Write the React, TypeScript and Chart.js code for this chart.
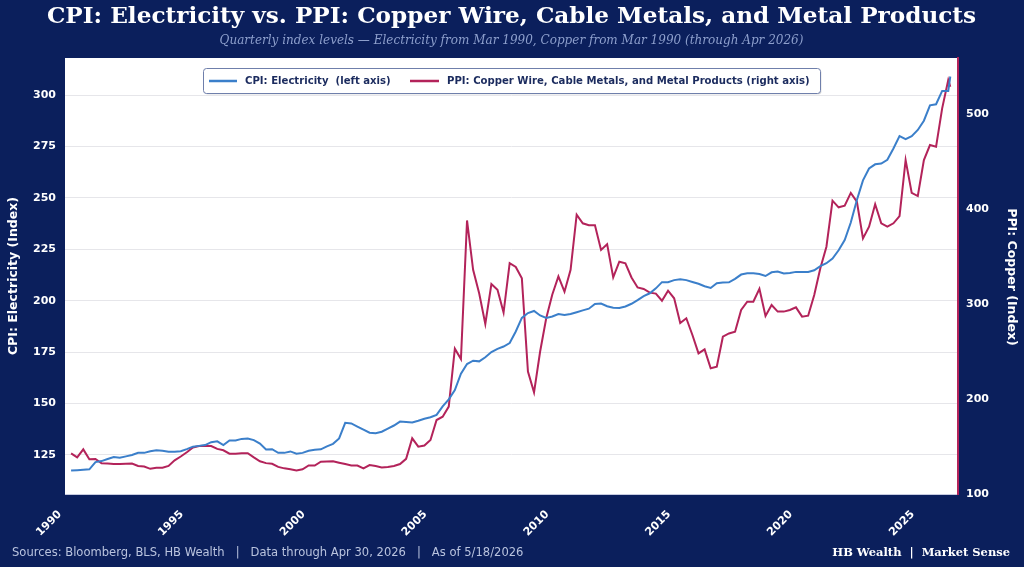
import { useEffect, useRef } from "react";
import { Chart, registerables } from "chart.js";

Chart.register(...registerables);

// ---- Data (quarterly, Mar 1990 .. Mar 2026, plus Apr 2026) ----
const FIRST_YEAR = 1990;
const LAST_FULL_YEAR = 2025;
const QUARTER_MONTHS = [3, 6, 9, 12];
const EXTRA_MONTHS_2026 = [3, 4];

const ELECTRICITY = [
  117.4, 117.6, 117.8, 118, 121.5, 122, 123, 124, 123.6, 124.3,
  125, 126, 126, 126.8, 127.3, 127, 126.5, 126.5, 126.8, 127.8,
  129, 129.4, 129.8, 131.2, 131.6, 129.8, 132, 132, 132.8, 133,
  132.2, 130.5, 127.6, 127.8, 126, 126, 126.7, 125.6, 126, 127,
  127.5, 127.7, 129.2, 130.4, 133, 140.6, 140.3, 138.8, 137.3, 135.8,
  135.6, 136.3, 137.8, 139.3, 141.2, 141, 140.8, 141.6, 142.6, 143.3,
  144.5, 148.6, 152, 156.5, 164.5, 169.2, 170.8, 170.5, 172.5, 175,
  176.6, 177.7, 179.4, 185, 191.6, 194, 195, 192.8, 191.6, 192.3,
  193.5, 193.1, 193.5, 194.4, 195.3, 196.1, 198.4, 198.6, 197.3, 196.6,
  196.4, 197.2, 198.5, 200.3, 202.2, 203.6, 206, 209, 209, 210,
  210.4, 210, 209.1, 208.2, 207, 206.2, 208.5, 208.8, 208.9, 210.6,
  212.7, 213.3, 213.3, 213, 212, 213.8, 214.2, 213.2, 213.5, 214,
  214, 214, 214.8, 216.8, 218.2, 220.5, 224.5, 229.5, 238, 249,
  258.5, 264.3, 266.3, 266.7, 268.5, 274, 280, 278.5, 280, 283,
  287.5, 295, 295.5, 302, 302,
  309,
];

const COPPER = [
  142.8, 138.6, 147, 136.5, 136.8, 132.3, 132, 131.5, 131.6, 131.8,
  132, 129.5, 129, 126.5, 127.6, 127.6, 129.5, 135.5, 139.5, 144,
  149, 150.5, 150.8, 150.5, 147.5, 146, 142.5, 142.5, 143, 143,
  138.6, 134.5, 132.5, 131.8, 128.5, 127, 126, 124.8, 126, 130,
  130, 134, 134.2, 134.5, 133, 131.5, 130, 130, 127, 130.5,
  129.5, 128, 128.5, 129.5, 131.5, 137, 158.6, 149.8, 151, 156.8,
  177.9, 181.4, 192, 253, 242, 388, 336, 311, 279, 321,
  315, 291, 343, 339, 327, 229, 207, 250, 285, 310,
  329, 313, 336, 394, 385, 383, 383, 357, 363, 328,
  344.5, 342.8, 328, 317.5, 315.8, 312, 311, 303.5, 314, 306,
  280, 285, 267.4, 248, 252.3, 232.3, 234, 265.6, 269, 270.8,
  293.7, 302.4, 302.4, 316, 287.5, 299, 292, 292, 293.7, 296.5,
  286.7, 287.7, 309.5, 337.6, 360.3, 408.8, 401.8, 403.5, 417, 407.7,
  369, 381.4, 405, 385, 381.4, 385, 392.6, 451.6, 417, 413.7,
  451.6, 467.4, 465.6, 506, 535.8,
  528.7,
];

const X_TICKS = [1990, 1995, 2000, 2005, 2010, 2015, 2020, 2025];
const LEFT_TICKS = [125, 150, 175, 200, 225, 250, 275, 300];
const RIGHT_TICKS = [100, 200, 300, 400, 500];

const TITLE = "CPI: Electricity vs. PPI: Copper Wire, Cable Metals, and Metal Products";
const SUBTITLE =
  "Quarterly index levels \u2014 Electricity from Mar 1990, Copper from Mar 1990 (through Apr 2026)";
const FOOTER_LEFT =
  "Sources: Bloomberg, BLS, HB Wealth   |   Data through Apr 30, 2026   |   As of 5/18/2026";
const FOOTER_RIGHT = "HB Wealth  |  Market Sense";
const LEFT_TITLE = "CPI: Electricity (Index)";
const RIGHT_TITLE = "PPI: Copper (Index)";
const LEGEND_BLUE = "CPI: Electricity  (left axis)";
const LEGEND_RED = "PPI: Copper Wire, Cable Metals, and Metal Products (right axis)";

// dates as decimal years
const DATES: number[] = [];
for (let y = FIRST_YEAR; y <= LAST_FULL_YEAR; y++) {
  for (const m of QUARTER_MONTHS) DATES.push(y + m / 12);
}
for (const m of EXTRA_MONTHS_2026) DATES.push(2026 + m / 12);

const NAVY = "#0b1f5c";
const BLUE = "#3b7fca";
const RED = "#b3235a";

const W = 1024;
const H = 567;
const PLOT = { left: 65, right: 958, top: 58, bottom: 494 };

function fitFont(
  ctx: CanvasRenderingContext2D,
  text: string,
  prefix: string,
  family: string,
  target: number
) {
  let size = 20;
  ctx.font = `${prefix} ${size}px ${family}`;
  const w = ctx.measureText(text).width;
  size = (size * target) / w;
  ctx.font = `${prefix} ${size}px ${family}`;
  return size;
}

const decorPlugin = {
  id: "decor",
  beforeDraw(chart: any) {
    const ctx = chart.ctx as CanvasRenderingContext2D;
    const a = chart.chartArea;
    ctx.save();
    ctx.fillStyle = NAVY;
    ctx.fillRect(0, 0, W, H);
    ctx.fillStyle = "#ffffff";
    ctx.fillRect(a.left, a.top, a.right - a.left, a.bottom - a.top);
    ctx.restore();
  },
  afterDatasetsDraw(chart: any) {
    const ctx = chart.ctx as CanvasRenderingContext2D;
    ctx.save();
    // legend box
    const bx = 203, by = 68, bw = 617, bh = 25;
    ctx.fillStyle = "rgba(0,0,0,0.12)";
    ctx.beginPath();
    (ctx as any).roundRect(bx + 1.5, by + 1.5, bw, bh, 3);
    ctx.fill();
    ctx.fillStyle = "#ffffff";
    ctx.strokeStyle = "#6f7fab";
    ctx.lineWidth = 1;
    ctx.beginPath();
    (ctx as any).roundRect(bx + 0.5, by + 0.5, bw, bh, 3);
    ctx.fill();
    ctx.stroke();
    const cy = by + bh / 2 + 0.5;
    ctx.lineWidth = 2.5;
    ctx.strokeStyle = BLUE;
    ctx.beginPath();
    ctx.moveTo(209, cy);
    ctx.lineTo(237, cy);
    ctx.stroke();
    ctx.strokeStyle = RED;
    ctx.beginPath();
    ctx.moveTo(410, cy);
    ctx.lineTo(439, cy);
    ctx.stroke();
    fitFont(ctx, LEGEND_BLUE, "bold", "'DejaVu Sans'", 146);
    ctx.fillStyle = "#1b2b5e";
    ctx.textBaseline = "middle";
    ctx.textAlign = "left";
    ctx.fillText(LEGEND_BLUE, 245, cy);
    ctx.fillText(LEGEND_RED, 447, cy);
    ctx.restore();
  },
  afterDraw(chart: any) {
    const ctx = chart.ctx as CanvasRenderingContext2D;
    ctx.save();
    ctx.textBaseline = "middle";
    // title
    ctx.fillStyle = "#ffffff";
    ctx.textAlign = "center";
    fitFont(ctx, TITLE, "bold", "'DejaVu Serif'", 930);
    ctx.fillText(TITLE, 511.5, 17);
    // subtitle
    ctx.fillStyle = "#8d9fcc";
    fitFont(ctx, SUBTITLE, "italic", "'DejaVu Serif'", 585);
    ctx.fillText(SUBTITLE, 511.5, 41);
    // footer
    ctx.textAlign = "left";
    ctx.fillStyle = "#b9c3de";
    fitFont(ctx, FOOTER_LEFT, "", "'DejaVu Sans'", 512);
    ctx.fillText(FOOTER_LEFT, 12, 553);
    ctx.textAlign = "right";
    ctx.fillStyle = "#ffffff";
    fitFont(ctx, FOOTER_RIGHT, "bold", "'DejaVu Serif'", 178);
    ctx.fillText(FOOTER_RIGHT, 1010, 553);
    // axis titles
    ctx.textAlign = "center";
    ctx.font = "bold 12.5px 'DejaVu Sans'";
    ctx.fillStyle = "#ffffff";
    ctx.save();
    ctx.translate(14, 276);
    ctx.rotate(-Math.PI / 2);
    ctx.fillText(LEFT_TITLE, 0, 0);
    ctx.restore();
    ctx.save();
    ctx.translate(1011, 277);
    ctx.rotate(Math.PI / 2);
    ctx.fillText(RIGHT_TITLE, 0, 0);
    ctx.restore();
    ctx.restore();
  },
};

export default function App() {
  const ref = useRef<HTMLCanvasElement | null>(null);

  useEffect(() => {
    document.body.style.margin = "0";
    document.body.style.background = NAVY;
    const canvas = ref.current;
    if (!canvas) return;
    const blue = DATES.map((d, i) => ({ x: d, y: ELECTRICITY[i] }));
    const red = DATES.map((d, i) => ({ x: d, y: COPPER[i] }));
    const tickFont = { family: "'DejaVu Sans'", weight: "bold" as const, size: 11 };
    const chart = new Chart(canvas, {
      type: "line",
      data: {
        datasets: [
          {
            label: LEGEND_BLUE,
            data: blue,
            yAxisID: "y",
            borderColor: BLUE,
            borderWidth: 2,
            pointRadius: 0,
            tension: 0,
          },
          {
            label: LEGEND_RED,
            data: red,
            yAxisID: "y1",
            borderColor: RED,
            borderWidth: 2,
            pointRadius: 0,
            tension: 0,
          },
        ],
      },
      options: {
        responsive: false,
        animation: false,
        devicePixelRatio: 1,
        layout: { padding: { top: PLOT.top, left: 0, right: 0, bottom: 0 } },
        plugins: {
          legend: { display: false },
          title: { display: false },
          tooltip: { enabled: false },
        },
        scales: {
          x: {
            type: "linear",
            position: "bottom",
            min: 1990,
            max: 2026.65,
            afterBuildTicks: (s: any) => {
              s.ticks = X_TICKS.map((v) => ({ value: v }));
            },
            afterFit: (s: any) => {
              s.height = H - PLOT.bottom;
            },
            ticks: {
              color: "#ffffff",
              font: { family: "'DejaVu Sans'", weight: "bold", size: 11 },
              minRotation: 45,
              maxRotation: 45,
              autoSkip: false,
              padding: 14,
              labelOffset: -5,
              callback: (v: any) => String(v),
            },
            grid: { display: false, drawTicks: false },
            border: { color: "#c6cbe0", width: 1 },
          },
          y: {
            position: "left",
            min: 106,
            max: 318,
            afterBuildTicks: (s: any) => {
              s.ticks = LEFT_TICKS.map((v) => ({ value: v }));
            },
            afterFit: (s: any) => {
              s.width = PLOT.left;
            },
            ticks: { color: "#ffffff", font: tickFont, padding: 9 },
            grid: { color: "#e6e6ea", lineWidth: 1, drawTicks: false },
            border: { display: false },
          },
          y1: {
            position: "right",
            min: 100,
            max: 559,
            afterBuildTicks: (s: any) => {
              s.ticks = RIGHT_TICKS.map((v) => ({ value: v }));
            },
            afterFit: (s: any) => {
              s.width = W - PLOT.right;
            },
            ticks: { color: "#ffffff", font: tickFont, padding: 8 },
            grid: { display: false, drawTicks: false },
            border: { color: RED, width: 2 },
          },
        },
      },
      plugins: [decorPlugin],
    } as any);
    return () => chart.destroy();
  }, []);

  return (
    <div style={{ width: W, height: H, background: NAVY }}>
      <canvas ref={ref} width={W} height={H} style={{ display: "block" }} />
    </div>
  );
}
